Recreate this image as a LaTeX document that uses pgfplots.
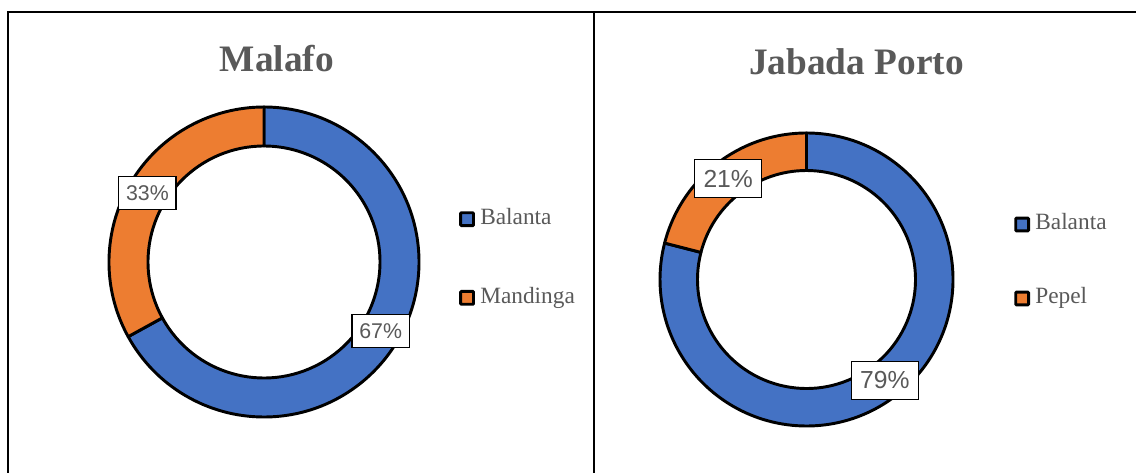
\documentclass[border=0pt]{standalone}
\usepackage{fontspec}
\setmainfont{Liberation Serif}
\newfontfamily\arialf{Liberation Sans}
\usepackage{pgfplots}
\usepackage{pgfplotstable}
\pgfplotsset{compat=1.18}

\definecolor{cBlue}{HTML}{4472C4}
\definecolor{cOrange}{HTML}{ED7D31}
\definecolor{txtgray}{HTML}{595959}

% shares in percent
\pgfplotstableread{
group value
Balanta 67
Mandinga 33
}\malafo
\pgfplotstableread{
group value
Balanta 79
Pepel 21
}\jabada

% ring segment: cx, cy (px), outer r, inner r, start angle, end angle, fill
\newcommand{\ringseg}[7]{%
  \filldraw[fill=#7, draw=black, line width=2.2pt, line join=round]
    (axis cs:#1,#2) ++({#5}:{#3*0.75pt})
    arc[start angle={#5}, end angle={#6}, radius={#3*0.75pt}]
    -- ++({#6+180}:{(#3-#4)*0.75pt})
    arc[start angle={#6}, end angle={#5}, radius={#4*0.75pt}]
    -- cycle;}

\pgfplotsset{
  panel/.style={
    hide axis, scale only axis, clip=false,
    width=852pt, height=354pt,
    xmin=0, xmax=1136, ymin=0, ymax=472,
    at={(0pt,0pt)}, anchor=south west,
    legend cell align=left,
    legend image code/.code={%
      \draw[##1, draw=black, line width=2.2pt, rounded corners=0.6pt]
        (0pt,-4.8pt) rectangle (9.6pt,4.8pt);},
    legend style={draw=none, fill=none, inner sep=0pt, anchor=west,
      column sep=4pt,
      nodes={inner sep=0pt, text height=12pt, text depth=4pt,
        text=txtgray, font=\fontsize{17.5}{17.5}\selectfont}},
  },
}
\tikzset{
  lbl/.style={draw=black, line width=0.9pt, fill=white, text=txtgray,
    inner sep=0pt},
  ttl/.style={anchor=base, text=txtgray,
    font=\fontsize{28}{30}\selectfont\bfseries},
}

\begin{document}
\begin{tikzpicture}
\useasboundingbox (0pt,0pt) rectangle (852pt,354pt);

% Malafo angles
\pgfplotstablegetelem{0}{value}\of\malafo \let\mA\pgfplotsretval
\pgfplotstablegetelem{1}{value}\of\malafo \let\mB\pgfplotsretval
\pgfmathsetmacro\mAend{90-3.6*\mA}
\pgfmathsetmacro\mBend{\mAend-3.6*\mB}
\pgfmathsetmacro\mAx{264+135.5*cos((90+\mAend)/2)}
\pgfmathsetmacro\mAy{210+135.5*sin((90+\mAend)/2)}
\pgfmathsetmacro\mBx{264+135.5*cos((\mAend+\mBend)/2)}
\pgfmathsetmacro\mBy{210+135.5*sin((\mAend+\mBend)/2)}

% Jabada Porto angles
\pgfplotstablegetelem{0}{value}\of\jabada \let\jA\pgfplotsretval
\pgfplotstablegetelem{1}{value}\of\jabada \let\jB\pgfplotsretval
\pgfmathsetmacro\jAend{90-3.6*\jA}
\pgfmathsetmacro\jBend{\jAend-3.6*\jB}
\pgfmathsetmacro\jAx{806.5+127.75*cos((90+\jAend)/2)}
\pgfmathsetmacro\jAy{192.5+127.75*sin((90+\jAend)/2)}
\pgfmathsetmacro\jBx{806.5+127.75*cos((\jAend+\jBend)/2)}
\pgfmathsetmacro\jBy{192.5+127.75*sin((\jAend+\jBend)/2)}

\begin{axis}[panel,
  legend style={at={(0.4040,0.4523)}, row sep=43pt}]
  \addlegendimage{fill=cBlue}\addlegendentry{Balanta}
  \addlegendimage{fill=cOrange}\addlegendentry{Mandinga}
  \draw[line width=1pt] (axis cs:8,-5) -- (axis cs:8,460) -- (axis cs:1140,460);
  \draw[line width=1pt] (axis cs:594,-5) -- (axis cs:594,460);
  \node[ttl] at (axis cs:277,400) {Malafo};
  \ringseg{264}{210}{155}{116}{90}{\mAend}{cBlue}
  \ringseg{264}{210}{155}{116}{\mAend}{\mBend}{cOrange}
  \node[lbl, font=\arialf\fontsize{16}{16}\selectfont, minimum width=43pt,
    minimum height=24.8pt] at (axis cs:\mAx,\mAy) {\mA\%};
  \node[lbl, font=\arialf\fontsize{16}{16}\selectfont, minimum width=43pt,
    minimum height=24.8pt] at (axis cs:\mBx,\mBy) {\mB\%};
\end{axis}

\begin{axis}[panel,
  legend style={at={(0.8926,0.4460)}, row sep=39.5pt}]
  \addlegendimage{fill=cBlue}\addlegendentry{Balanta}
  \addlegendimage{fill=cOrange}\addlegendentry{Pepel}
  \node[ttl] at (axis cs:856.5,397) {Jabada Porto};
  \ringseg{806.5}{192.5}{146.5}{109}{90}{\jAend}{cBlue}
  \ringseg{806.5}{192.5}{146.5}{109}{\jAend}{\jBend}{cOrange}
  \node[lbl, font=\arialf\fontsize{18.5}{18.5}\selectfont, minimum width=50pt,
    minimum height=28pt] at (axis cs:\jAx,\jAy) {\jA\%};
  \node[lbl, font=\arialf\fontsize{18.5}{18.5}\selectfont, minimum width=50pt,
    minimum height=28pt] at (axis cs:\jBx,\jBy) {\jB\%};
\end{axis}
\end{tikzpicture}
\end{document}
